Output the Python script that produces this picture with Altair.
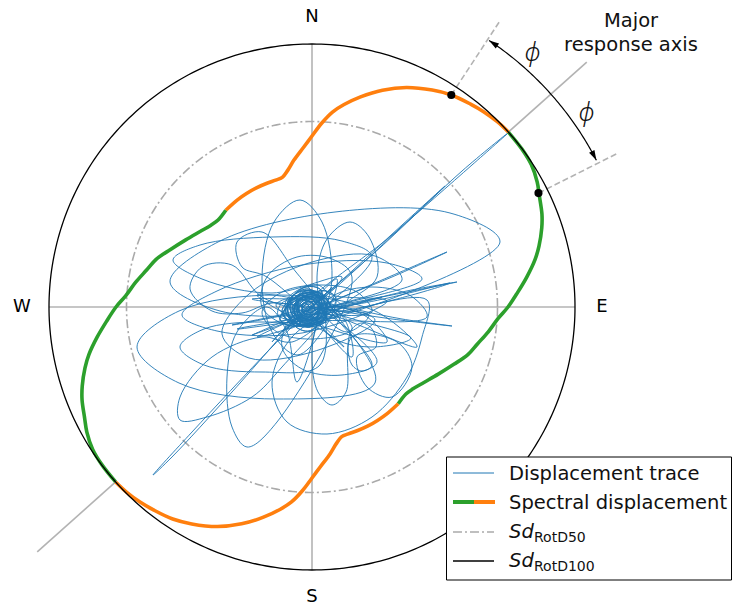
import altair as alt
import numpy as np
import pandas as pd

# ------------------------------------------------------------------ values
# Spectral displacement Sd(theta), theta in degrees CCW from East, radius in mm.
# Sd(theta) = Sd(theta + 180), so one half-turn is listed.
spec_deg = [0, 4, 8, 12, 15, 19, 22, 26, 29, 33, 37, 41.7, 45, 48.7, 52, 56.7,
            61, 66.7, 72, 77, 81, 84, 87, 90, 93, 97, 100, 102.9, 106, 110,
            115, 120, 125, 131.7, 137.2, 141, 146, 152, 158, 163, 167.4, 172, 176.5]
spec_r = [196, 206, 217, 228, 235, 243, 248, 253, 257.5, 261.5, 262.7, 263, 262,
          260, 257.5, 253.7, 248, 239, 228, 215.7, 205, 196, 184, 171, 160, 148,
          139, 133, 132, 131.7, 131.5, 131, 130.5, 129.6, 128, 130, 135, 143,
          153, 163, 169.5, 178, 186.5]

rotd100 = 263.0          # Sd RotD100
rotd50 = 185.5           # Sd RotD50
major_deg = 41.7         # major response axis direction
phi_deg = 15.0           # angle phi
dot_r = [253.7, 253.5]   # Sd at major +/- phi

compass = ["E", "N", "W", "S"]
compass_deg = [0, 90, 180, 270]
legend_labels = ["Displacement trace", "Spectral displacement"]
legend_sd_sub = ["RotD50", "RotD100"]

# displacement trace (east, north) in mm, as successive loops of the orbit
c1 = [(3, -3), (1, 3), (-5, 5), (-11, 2), (-13, -3), (-10, -9), (-5, -11), (1, -8)]
c2 = [(10, -1), (5, 6), (-6, 8), (-17, 4), (-20, -4), (-13, -11), (-3, -13), (7, -8)]
c3 = [(18, 4), (8, 14), (-8, 13), (-24, 3), (-28, -8), (-16, -17), (0, -18), (14, -10)]
c4 = [(7, 0), (3, 13), (-6, 16), (-15, 8), (-17, -5), (-11, -17), (-2, -20), (5, -12)]
c5 = [(24, 8), (14, 16), (-5, 12), (-25, 0), (-32, -13), (-20, -19), (-2, -16), (15, -6)]
c6 = [(1, -1), (-3, 3), (-8, 1), (-10, -4), (-6, -8), (-1, -6)]
c7 = [(14, 2), (8, 18), (-6, 20), (-20, 10), (-24, -6), (-16, -20), (-3, -24), (9, -14)]
c8 = [(26, -10), (16, 1), (-4, 6), (-26, 8), (-36, 2), (-25, -8), (-5, -12), (15, -15)]
c9 = [(6, 2), (0, 8), (-9, 6), (-14, -2), (-10, -10), (-2, -12), (4, -7)]
c10 = [(16, -2), (10, 10), (-6, 14), (-22, 6), (-26, -6), (-16, -16), (-2, -19), (12, -12)]
c11 = [(20, 12), (6, 22), (-12, 18), (-26, 6), (-24, -10), (-10, -18), (8, -14), (18, -2)]
c12 = [(4, -6), (2, 6), (-8, 10), (-18, 2), (-16, -10), (-6, -16), (4, -12)]
c13 = [(12, 6), (-2, 10), (-14, 2), (-12, -12), (0, -14), (10, -6)]
c14 = [(30, 0), (18, 10), (-8, 10), (-30, 4), (-34, -8), (-16, -14), (10, -12), (26, -8)]
c15 = [(8, 10), (-4, 18), (-18, 12), (-22, -2), (-14, -14), (2, -16), (12, -4)]
c16 = [(2, 2), (-4, 6), (-10, 2), (-8, -6), (-2, -8)]
c17 = [(22, -4), (14, 8), (-2, 12), (-20, 8), (-30, -4), (-22, -16), (-4, -20), (14, -14)]
c18 = [(16, 6), (4, 16), (-12, 14), (-20, 0), (-12, -12), (4, -12)]
c19 = [(10, 4), (2, 12), (-10, 10), (-16, 0), (-12, -10), (0, -12), (8, -6)]
c20 = [(6, -8), (8, 2), (0, 10), (-12, 8), (-18, -4), (-10, -14)]
c21 = [(14, -6), (12, 6), (0, 14), (-14, 12), (-22, 0), (-16, -12), (-2, -16)]
c22 = [(4, 4), (-6, 10), (-14, 4), (-12, -6), (-2, -10), (6, -4)]
c23 = [(18, 2), (6, 14), (-10, 16), (-24, 6), (-22, -10), (-8, -18), (10, -14)]
c24 = [(-2, 0), (-6, 4), (-10, 0), (-6, -4)]

e_upper = [(188, 65), (138, 94), (23, 95), (-92, 66), (-142, 25), (-92, -4), (23, -5), (138, 24)]
e_lower = [(105, -40), (63, -4), (-35, 12), (-133, -4), (-175, -40), (-133, -76), (-35, -92), (63, -76)]
e_right = [(115, 7), (110, -30), (95, -70), (60, -110), (15, -127), (-25, -115), (-40, -75),
           (-20, -30), (20, -5), (70, 10)]
e_tall = [(20, 30), (10, 85), (-12, 107), (-38, 85), (-50, 30), (-40, -25), (-15, -48), (10, -25)]
e_up2 = [(65, 30), (57, 70), (38, 85), (15, 68), (5, 30), (13, -8), (35, -25), (57, -8)]
e_down = [(-15, -75), (-25, -25), (-45, 0), (-75, -25), (-85, -70), (-80, -120), (-65, -140), (-35, -115)]
e_sw = [(-20, -35), (-50, -30), (-100, -50), (-132, -90), (-132, -113), (-105, -110), (-60, -90), (-30, -60)]
e_ul = [(60, 50), (30, 66), (-40, 70), (-112, 62), (-139, 47), (-110, 28), (-40, 14), (30, 30)]
e_ll = [(32, -40), (8, -22), (-50, -15), (-108, -22), (-132, -40), (-108, -58), (-50, -65), (8, -58)]
e_s1 = [(40, -50), (34, -15), (20, -2), (6, -15), (0, -50), (6, -85), (20, -98), (34, -85)]
e_s2 = [(64, -40), (60, -22), (50, -16), (40, -22), (36, -40), (40, -58), (50, -64), (60, -58)]
e_mid = [(90, 27), (63, 51), (0, 45), (-63, 13), (-90, -27), (-63, -51), (0, -45), (63, -13)]
e_wide = [(110, 28), (75, 44), (-10, 42), (-95, 16), (-130, -8), (-95, -24), (-10, -26), (75, 6)]
e_e = [(115, -10), (99, 11), (60, 20), (21, 11), (5, -10), (21, -31), (60, -40), (99, -31)]

m1 = [(60, -5), (45, 15), (10, 22), (-30, 15), (-50, -5), (-35, -25), (0, -32), (40, -22)]
m2 = [(40, 30), (20, 48), (-15, 50), (-45, 30), (-50, 0), (-25, -18), (10, -15), (35, 5)]
m3 = [(75, -35), (55, -10), (20, 0), (-20, -10), (-30, -40), (-10, -62), (30, -68), (65, -55)]
m4 = [(-50, 10), (-80, 42), (-110, 40), (-122, 18), (-100, -4), (-70, -6), (-40, 4)]
m5 = [(40, -30), (85, -35), (100, -60), (80, -90), (55, -80), (45, -50)]
m6 = [(-20, 40), (-50, 75), (-75, 65), (-70, 40), (-45, 30)]

s_ne = [(-10, -5), (80, 72), (160, 142), (196, 174), (150, 136), (60, 52), (-20, -15), (-40, -35), (-15, -12)]
s_sw = [(20, 20), (-40, -40), (-120, -125), (-159, -168), (-140, -150), (-80, -85), (0, 5), (25, 28)]
s_ne2 = [(-25, -22), (30, 25), (100, 90), (133, 121), (90, 82), (20, 18), (-30, -25)]
s_e1 = [(-55, -30), (20, 5), (100, 40), (135, 55), (80, 30), (0, -2), (-60, -28)]
s_e2 = [(-75, -22), (0, -8), (90, 15), (145, 25), (80, 12), (-10, -5), (-80, -18)]
s_e3 = [(-55, 12), (10, 4), (90, -12), (140, -19), (80, -12), (0, 0), (-60, 8)]

trace_loops = [c1, c2, c6, c19, c4, c22, e_mid, c3, c9, c20, s_e3, c15, e_tall, c5, c24, m1,
               c13, c21, e_upper, c7, s_e2, c16, c23, e_e, c10, m4, c6, c19, e_lower, c17,
               s_ne, c8, c22, e_down, m2, e_up2, c2, c20, s_e1, c18, e_right, c4, c21, m3,
               c9, e_ul, c24, s_sw, c3, m6, e_ll, c15, c23, e_sw, c5, s_ne2, c16, e_s1, m5,
               e_s2, c7, c10, c22, e_wide, c11, c12, c20, c13, c14, c17, c19, c1]

# --------------------------------------------------------------- helpers
xs = alt.Scale(domain=[-312, 420], nice=False, zero=False)
ys = alt.Scale(domain=[-301, 307], nice=False, zero=False)


def X(f="x"):
    return alt.X(f"{f}:Q", scale=xs, axis=None)


def Y(f="y"):
    return alt.Y(f"{f}:Q", scale=ys, axis=None)


def polar(r, deg):
    t = np.radians(deg)
    return float(r * np.cos(t)), float(r * np.sin(t))


one = pd.DataFrame({"k": [0]})
FONT = "DejaVu Sans"
GRAY = "#b3b3b3"


def seg_df(segs):
    return pd.DataFrame([{"x": a[0], "y": a[1], "x2": b[0], "y2": b[1]} for a, b in segs])


# ------------------------------------------------------------ straight lines
axis_df = seg_df([
    ((-rotd100, 0), (rotd100, 0)),
    ((0, -rotd100), (0, rotd100)),
    (polar(rotd100, major_deg), polar(368, major_deg)),
    (polar(rotd100, major_deg + 180), polar(368, major_deg + 180)),
])
axes = alt.Chart(axis_df).mark_rule(color=GRAY, strokeWidth=1.6).encode(
    x=X(), y=Y(), x2="x2:Q", y2="y2:Q")

phi_angles = [major_deg + phi_deg, major_deg - phi_deg]
dash_df = seg_df([(polar(r, a), polar(341, a)) for r, a in zip(dot_r, phi_angles)])
dashes = alt.Chart(dash_df).mark_rule(color=GRAY, strokeWidth=1.6, strokeDash=[6, 3]).encode(
    x=X(), y=Y(), x2="x2:Q", y2="y2:Q")

# ------------------------------------------------------------------ circles
ang = np.arange(0, 361, 1.0)


def ring_df(r):
    return pd.DataFrame({"i": ang, "x": r * np.cos(np.radians(ang)), "y": r * np.sin(np.radians(ang))})


ring50 = alt.Chart(ring_df(rotd50)).mark_line(
    color="#aaaaaa", strokeWidth=1.6, strokeDash=[9, 3, 2, 3]).encode(
    x=X(), y=Y(), order="i:Q")
ring100 = alt.Chart(ring_df(rotd100)).mark_line(color="black", strokeWidth=1.3).encode(
    x=X(), y=Y(), order="i:Q")

# -------------------------------------------------------------------- trace
trace_pts = [p for loop in trace_loops for p in loop]
tr = pd.DataFrame({"i": range(len(trace_pts)),
                   "x": [p[0] for p in trace_pts],
                   "y": [p[1] for p in trace_pts]})
trace = alt.Chart(tr).mark_line(color="#1f77b4", strokeWidth=0.9, interpolate="catmull-rom").encode(
    x=X(), y=Y(), order="i:Q")

# ------------------------------------------------------- spectral displacement
pts = []
for half in (0.0, 180.0):
    for d, r in zip(spec_deg, spec_r):
        pts.append(((d + half) % 360, r))
seg_start = [major_deg - 90, major_deg, major_deg + 90, major_deg + 180]
seg_col = ["#2ca02c", "#ff7f0e", "#2ca02c", "#ff7f0e"]
rows = []
for k, (s, c) in enumerate(zip(seg_start, seg_col)):
    for a, r in pts:
        u = (a - s) % 360
        if u > 359.999:
            u -= 360
        if -1e-6 <= u <= 90 + 1e-6:
            x, y = polar(r, a)
            rows.append({"seg": k, "col": c, "u": u, "x": x, "y": y})
spec = pd.DataFrame(rows)
spectral = alt.Chart(spec).mark_line(strokeWidth=3.6, interpolate="catmull-rom").encode(
    x=X(), y=Y(), order="u:Q", detail="seg:N", color=alt.Color("col:N", scale=None))

# ---------------------------------------------------------------------- dots
dots_df = pd.DataFrame([dict(zip(("x", "y"), polar(r, a))) for r, a in zip(dot_r, phi_angles)])
dots = alt.Chart(dots_df).mark_circle(size=66, color="black", opacity=1).encode(x=X(), y=Y())

# ------------------------------------------------------------- phi arrow arc
arc_r = 320
arc_from, arc_to = major_deg - phi_deg + 0.6, major_deg + phi_deg - 0.3
arc_ang = np.linspace(arc_from, arc_to, 60)
arc_df = pd.DataFrame({"i": arc_ang, "x": arc_r * np.cos(np.radians(arc_ang)),
                       "y": arc_r * np.sin(np.radians(arc_ang))})
arc = alt.Chart(arc_df).mark_line(color="black", strokeWidth=1.2).encode(x=X(), y=Y(), order="i:Q")
heads_df = pd.DataFrame([
    {**dict(zip(("x", "y"), polar(arc_r, arc_to))), "rot": (90 - (arc_to + 90)) % 360},
    {**dict(zip(("x", "y"), polar(arc_r, arc_from))), "rot": (90 - (arc_from - 90)) % 360},
])
heads = alt.Chart(heads_df).mark_point(
    shape="M0,0L-0.3,1L0.3,1Z", filled=True, size=400, color="black", opacity=1).encode(
    x=X(), y=Y(), angle=alt.Angle("rot:Q", scale=None))

phi_df = pd.DataFrame([dict(zip(("x", "y"), polar(336, a))) for a in
                       (major_deg + 7.3, major_deg - 6.5)])
phi_txt = alt.Chart(phi_df).mark_text(
    text="ϕ", font="Noto Sans", fontSize=25, fontStyle="italic", fontWeight=300,
    align="center", baseline="middle", color="#111").encode(x=X(), y=Y())

# ------------------------------------------------------------------ compass
comp_df = pd.DataFrame([{**dict(zip(("x", "y"), polar(290, a))), "t": t}
                        for t, a in zip(compass, compass_deg)])
comp = alt.Chart(comp_df).mark_text(
    font=FONT, fontSize=18, align="center", baseline="middle", color="black").encode(
    x=X(), y=Y(), text="t:N")

major_txt = [
    alt.Chart(one).mark_text(text=t, font=FONT, fontSize=19.5, align="center",
                             baseline="alphabetic", color="#111").encode(
        x=alt.value(631), y=alt.value(yy))
    for t, yy in (("Major", 27), ("response axis", 51))
]

# ------------------------------------------------------------------- legend
leg = [
    alt.Chart(one).mark_rect(fill="white", stroke="black", strokeWidth=1).encode(
        x=alt.value(446.5), x2=alt.value(731.5), y=alt.value(457), y2=alt.value(580)),
    alt.Chart(one).mark_rule(color="#1f77b4", strokeWidth=1).encode(
        x=alt.value(453), x2=alt.value(494), y=alt.value(473)),
    alt.Chart(one).mark_rule(color="#2ca02c", strokeWidth=4).encode(
        x=alt.value(453), x2=alt.value(474), y=alt.value(502)),
    alt.Chart(one).mark_rule(color="#ff7f0e", strokeWidth=4).encode(
        x=alt.value(474), x2=alt.value(495), y=alt.value(502)),
    alt.Chart(one).mark_rule(color="#aaaaaa", strokeWidth=1.6, strokeDash=[9, 3, 2, 3]).encode(
        x=alt.value(453), x2=alt.value(494), y=alt.value(532)),
    alt.Chart(one).mark_rule(color="black", strokeWidth=1.3).encode(
        x=alt.value(453), x2=alt.value(494), y=alt.value(561)),
]
for t, yy in zip(legend_labels, (480, 509)):
    leg.append(alt.Chart(one).mark_text(text=t, font=FONT, fontSize=19.5, align="left",
                                        baseline="alphabetic", color="#111").encode(
        x=alt.value(509), y=alt.value(yy)))
for sub, yy in zip(legend_sd_sub, (538, 567)):
    leg.append(alt.Chart(one).mark_text(text="Sd", font=FONT, fontSize=19.5, fontStyle="italic",
                                        align="left", baseline="alphabetic", color="#111").encode(
        x=alt.value(509), y=alt.value(yy)))
    leg.append(alt.Chart(one).mark_text(text=sub, font=FONT, fontSize=14, align="left",
                                        baseline="alphabetic", color="#111").encode(
        x=alt.value(534), y=alt.value(yy + 4)))

chart = alt.layer(
    axes, dashes, ring50, trace, spectral, ring100, dots, arc, heads, phi_txt, comp,
    *major_txt, *leg
).properties(
    width=732, height=608, padding=0, autosize=alt.AutoSizeParams(type="none")
).configure_view(strokeWidth=0)

chart.save("out.html", embed_options={"renderer": "svg", "actions": False})
